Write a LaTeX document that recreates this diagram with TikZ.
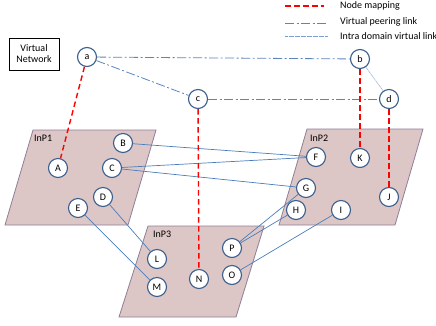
\documentclass[tikz,border=0pt]{standalone}
\usepackage{fontspec}
\setmainfont{Carlito}
\begin{document}
\begin{tikzpicture}[x=1pt,y=-1pt,
  vn/.style={circle,draw=nodeblue,fill=white,line width=1.1pt,minimum size=19pt,inner sep=0pt,font=\fontsize{10}{11}\selectfont},
  inp/.style={fill=inpfill,draw=inpborder,line width=0.8pt},
  phys/.style={draw=linkblue,line width=0.7pt},
  mapping/.style={draw=red,line width=1.4pt,dash pattern=on 5.5pt off 3.5pt},
  peering/.style={draw=peerblue,line width=0.8pt,dash pattern=on 9pt off 2.5pt on 2pt off 2.5pt},
  intra/.style={draw=peerblue!80,line width=0.6pt,dash pattern=on 0.6pt off 0.6pt},
  lbl/.style={font=\fontsize{10}{11}\selectfont,anchor=west,inner sep=0pt},
]
\definecolor{nodeblue}{HTML}{3A5E8C}
\definecolor{inpfill}{HTML}{DDC6C6}
\definecolor{inpborder}{HTML}{8F7E98}
\definecolor{linkblue}{HTML}{4A7EBB}
\definecolor{peerblue}{HTML}{5A86C0}
\useasboundingbox (0,0) rectangle (436,325);
% InPs
\path[inp] (33,130) -- (156,130) -- (128,225) -- (5,225) -- cycle;
\path[inp] (307,129) -- (423,129) -- (395,225) -- (279,225) -- cycle;
\path[inp] (148,226) -- (264,226) -- (236,317) -- (119,317) -- cycle;
\node[lbl] (inp1) at (34,138) {InP1};
\node[lbl] (inp2) at (310,138) {InP2};
\node[lbl] (inp3) at (153,234) {InP3};
% virtual network box
\node[draw=black,line width=1pt,align=center,minimum width=50pt,minimum height=32pt,inner sep=1pt,font=\fontsize{10}{11}\selectfont] (vnbox) at (34,54) {Virtual\\Network};
% virtual nodes
\node[vn] (a) at (87,57) {a};
\node[vn] (b) at (360,59) {b};
\node[vn] (c) at (198,99) {c};
\node[vn] (d) at (389,99) {d};
% physical nodes
\node[vn] (A) at (58,168) {A};
\node[vn] (B) at (123,143) {B};
\node[vn] (C) at (112,168) {C};
\node[vn] (D) at (103,197) {D};
\node[vn] (E) at (78,208) {E};
\node[vn] (F) at (316,157) {F};
\node[vn] (K) at (360,158) {K};
\node[vn] (G) at (306,188) {G};
\node[vn] (H) at (296,210) {H};
\node[vn] (I) at (341,210) {I};
\node[vn] (J) at (389,197) {J};
\node[vn] (L) at (157,259) {L};
\node[vn] (M) at (157,287) {M};
\node[vn] (N) at (199,279) {N};
\node[vn] (P) at (232,248) {P};
\node[vn] (O) at (232,275) {O};
% physical links
\draw[phys] (B) -- (F);
\draw[phys] (C) -- (F);
\draw[phys] (C) -- (G);
\draw[phys] (D) -- (L);
\draw[phys] (E) -- (M);
\draw[phys] (G) -- (P);
\draw[phys] (H) -- (P);
\draw[phys] (I) -- (O);
% virtual links
\draw[peering] (a) -- (b);
\draw[peering] (a) -- (c);
\draw[peering] (c) -- (d);
\draw[intra] (b) -- (d);
% mappings
\draw[mapping] (a) -- (A);
\draw[mapping] (c) -- (N);
\draw[mapping] (b) -- (K);
\draw[mapping] (d) -- (J);
% legend
\coordinate (l1s) at (285,6); \coordinate (l1e) at (324,6);
\coordinate (l2s) at (285,23); \coordinate (l2e) at (328,23);
\coordinate (l3s) at (285,36); \coordinate (l3e) at (328,36);
\draw[mapping] (l1s) -- (l1e);
\draw[peering] (l2s) -- (l2e);
\draw[intra] (l3s) -- (l3e);
\node[lbl] (t1) at (340,6) {Node mapping};
\node[lbl] (t2) at (340,22) {Virtual peering link};
\node[lbl] (t3) at (340,36) {Intra domain virtual link};
\end{tikzpicture}
\end{document}
